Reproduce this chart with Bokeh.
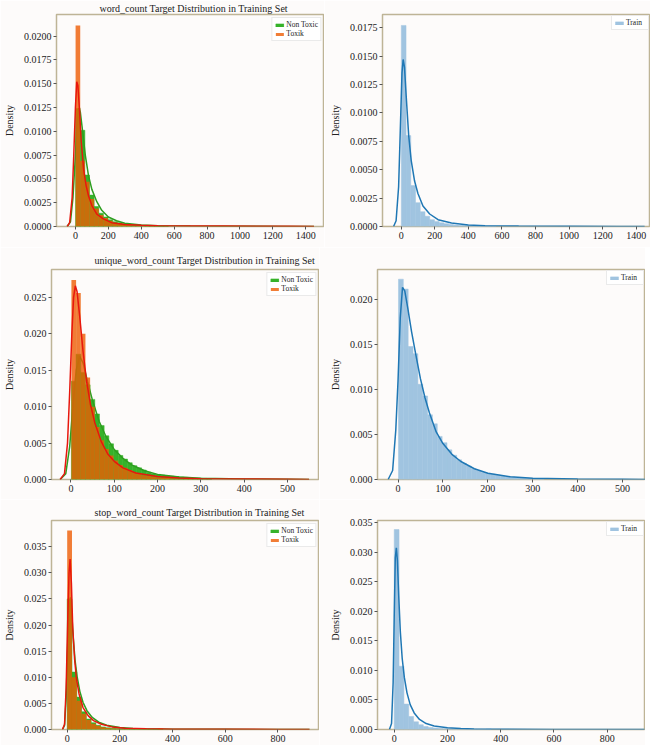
from bokeh.plotting import figure
from bokeh.layouts import column, row
from bokeh.models import (Range1d, FixedTicker, PrintfTickFormatter, Legend,
                          LegendItem, ColumnDataSource)
from bokeh.embed import file_html
from bokeh.resources import INLINE

# ---------------- data ----------------
features = ["word_count", "unique_word_count", "stop_word_count"]
bin_starts = [1, 1, 0]
bin_widths = [28.2, 10.8, 18.2]

# word_count
word_nontoxic = [0.0124, 0.0101, 0.0054, 0.0033, 0.0021, 0.0014, 0.0010, 0.0007, 0.0005, 0.0004,
                 0.0003, 0.00022, 0.00016, 0.00012, 0.0001, 0.00008, 0.00006, 0.00005, 0.00004, 0.00003]
word_toxic = [0.0211, 0.0069, 0.0047, 0.0029, 0.0019, 0.0012, 0.0009, 0.0006, 0.0004, 0.0003,
              0.0002, 0.00015, 0.0001, 0.00008, 0.00006, 0.00005, 0.00004, 0.00003, 0.00003, 0.00002]
word_train = [0.0177, 0.0080, 0.0036, 0.0021, 0.0013, 0.0009, 0.0006, 0.00045, 0.00032, 0.00024,
              0.00017, 0.00013, 0.0001, 0.00008, 0.00006, 0.00005, 0.00004, 0.00003, 0.00003, 0.00002]
word_kde_nontoxic_x = [-50, -30, -15, 0, 10, 20, 30, 45, 60, 80, 100, 130, 160, 200, 250, 300, 400,
                       500, 700, 1000, 1300, 1450]
word_kde_nontoxic_y = [0, 0.0005, 0.0030, 0.0075, 0.0108, 0.0124, 0.0120, 0.0098, 0.0075, 0.0053,
                       0.0039, 0.0026, 0.0017, 0.0010, 0.0006, 0.00035, 0.00015, 0.00008, 0.00004,
                       0.00002, 0.00001, 0]
word_kde_toxic_x = [-50, -35, -20, -10, 0, 8, 15, 25, 35, 50, 65, 80, 100, 130, 170, 220, 300, 400,
                    500, 700, 900, 1100, 1300, 1450]
word_kde_toxic_y = [0, 0.0004, 0.0030, 0.0075, 0.0125, 0.0152, 0.0148, 0.0122, 0.0090, 0.0060,
                    0.0043, 0.0032, 0.0022, 0.0013, 0.0008, 0.0004, 0.0002, 0.00012, 0.00008,
                    0.00005, 0.00004, 0.00003, 0.00003, 0]
word_kde_train_x = [-45, -30, -15, -5, 5, 12, 20, 30, 45, 60, 80, 100, 130, 170, 220, 300, 400, 500,
                    700, 1000, 1300, 1450]
word_kde_train_y = [0, 0.0005, 0.0035, 0.0085, 0.0135, 0.0147, 0.0140, 0.0115, 0.0080, 0.0058,
                    0.0040, 0.0029, 0.0018, 0.0011, 0.0006, 0.0003, 0.00013, 0.00007, 0.00004,
                    0.00002, 0.00001, 0]

# unique_word_count
uniq_nontoxic = [0.0135, 0.0172, 0.0147, 0.0130, 0.0110, 0.0090, 0.0074, 0.0060, 0.0049, 0.0040,
                 0.0033, 0.0028, 0.0023, 0.0019, 0.0016, 0.0013, 0.0010, 0.0008, 0.0007, 0.0006,
                 0.0005, 0.00045, 0.0004, 0.00035, 0.0003, 0.00025, 0.0002, 0.00018, 0.00015, 0.00012]
uniq_toxic = [0.0274, 0.0256, 0.0200, 0.0140, 0.0100, 0.0072, 0.0054, 0.0042, 0.0033, 0.0026,
              0.0020, 0.0016, 0.0013, 0.0010, 0.0008, 0.0006, 0.0005, 0.0004, 0.0003, 0.00025,
              0.0002, 0.00016, 0.00013, 0.0001, 0.00008, 0.00006, 0.00005, 0.00004]
uniq_train = [0.0223, 0.0212, 0.0148, 0.0140, 0.0106, 0.0093, 0.0072, 0.0062, 0.0048, 0.0041,
              0.0033, 0.0027, 0.0022, 0.0018, 0.0015, 0.0012, 0.0010, 0.0008, 0.0007, 0.0006,
              0.0005, 0.0004, 0.0003, 0.00025, 0.0002, 0.00016, 0.00013, 0.0001, 0.00008, 0.00006]
uniq_kde_nontoxic_x = [-25, -12, -3, 5, 12, 20, 28, 38, 50, 65, 80, 100, 120, 140, 170, 200, 250,
                       300, 400, 500, 550]
uniq_kde_nontoxic_y = [0, 0.0008, 0.0045, 0.0105, 0.0150, 0.0169, 0.0160, 0.0135, 0.0108, 0.0080,
                       0.0060, 0.0041, 0.0029, 0.0020, 0.0012, 0.0007, 0.00035, 0.00018, 0.00007,
                       0.00003, 0]
uniq_kde_toxic_x = [-25, -15, -8, -3, 2, 6, 10, 14, 20, 28, 36, 45, 55, 70, 85, 100, 120, 150, 200,
                    250, 300, 400, 500, 550]
uniq_kde_toxic_y = [0, 0.0008, 0.0050, 0.0120, 0.0200, 0.0250, 0.0266, 0.0258, 0.0225, 0.0175,
                    0.0135, 0.0103, 0.0078, 0.0052, 0.0035, 0.0025, 0.0016, 0.0009, 0.0004, 0.0002,
                    0.00012, 0.00006, 0.00003, 0]
uniq_kde_train_x = [-22, -12, -5, 0, 5, 10, 15, 22, 30, 40, 50, 60, 70, 85, 100, 120, 140, 170, 200,
                    250, 300, 400, 500, 560]
uniq_kde_train_y = [0, 0.0010, 0.0055, 0.0110, 0.0180, 0.0214, 0.0210, 0.0190, 0.0165, 0.0138,
                    0.0112, 0.0091, 0.0074, 0.0053, 0.0040, 0.0028, 0.0020, 0.0012, 0.0007, 0.0003,
                    0.00015, 0.00006, 0.00003, 0]

# stop_word_count
stop_nontoxic = [0.0250, 0.0110, 0.0062, 0.0034, 0.0020, 0.0013, 0.0008, 0.0005, 0.00035, 0.00025,
                 0.00018, 0.00013, 0.0001, 0.00008, 0.00006, 0.00005, 0.00004, 0.00003, 0.00003, 0.00002]
stop_toxic = [0.0381, 0.0100, 0.0055, 0.0030, 0.0018, 0.0011, 0.0007, 0.00045, 0.0003, 0.0002,
              0.00015, 0.0001, 0.00008, 0.00006, 0.00005, 0.00004, 0.00003, 0.00003, 0.00002, 0.0002]
stop_train = [0.0338, 0.0107, 0.0043, 0.0022, 0.0013, 0.0008, 0.0005, 0.00035, 0.00025, 0.00018,
              0.00013, 0.0001, 0.00008, 0.00006, 0.00005, 0.00004, 0.00003, 0.00003, 0.00002, 0.0001]
stop_kde_nontoxic_x = [-18, -10, -4, 2, 7, 12, 17, 23, 30, 38, 48, 60, 75, 95, 120, 150, 200, 250,
                       300, 400, 600, 800, 920]
stop_kde_nontoxic_y = [0, 0.0008, 0.0060, 0.0165, 0.0235, 0.0253, 0.0225, 0.0175, 0.0132, 0.0100,
                       0.0073, 0.0052, 0.0036, 0.0023, 0.0014, 0.0008, 0.0004, 0.0002, 0.00012,
                       0.00006, 0.00003, 0.00001, 0]
stop_kde_toxic_x = [-18, -10, -4, 2, 7, 11, 16, 21, 28, 35, 45, 60, 80, 100, 130, 170, 220, 300, 400,
                    600, 800, 920]
stop_kde_toxic_y = [0, 0.0010, 0.0080, 0.0210, 0.0300, 0.0326, 0.0280, 0.0195, 0.0135, 0.0098,
                    0.0068, 0.0042, 0.0026, 0.0017, 0.0010, 0.0005, 0.00025, 0.00012, 0.00006,
                    0.00003, 0.00002, 0]
stop_kde_train_x = [-18, -10, -4, 0, 4, 8, 12, 17, 23, 30, 38, 48, 60, 75, 95, 120, 150, 200, 250,
                    300, 400, 600, 800, 940]
stop_kde_train_y = [0, 0.0010, 0.0080, 0.0190, 0.0290, 0.0307, 0.0285, 0.0225, 0.0165, 0.0120,
                    0.0088, 0.0062, 0.0042, 0.0028, 0.0017, 0.0010, 0.0006, 0.0003, 0.00015,
                    0.0001, 0.00005, 0.00002, 0.00001, 0]

# axis ticks
word_xticks = [0, 200, 400, 600, 800, 1000, 1200, 1400]
uniq_xticks = [0, 100, 200, 300, 400, 500]
stop_xticks = [0, 200, 400, 600, 800]
word_left_yticks = [0, 0.0025, 0.005, 0.0075, 0.01, 0.0125, 0.015, 0.0175, 0.02]
word_right_yticks = [0, 0.0025, 0.005, 0.0075, 0.01, 0.0125, 0.015, 0.0175]
uniq_left_yticks = [0, 0.005, 0.01, 0.015, 0.02, 0.025]
uniq_right_yticks = [0, 0.005, 0.01, 0.015, 0.02]
stop_yticks = [0, 0.005, 0.01, 0.015, 0.02, 0.025, 0.03, 0.035]

# ---------------- styling ----------------
FONT = "Liberation Serif"
BG = "#fdfbfa"
GREEN_FILL = "#36b22a"
GREEN_LINE = "#2e9e20"
TOX_FILL = "#ee5c04"
RED_LINE = "#e8170d"
BLUE = "#1f77b4"
BLUE_BAR = "#a0c4e0"
FRAME_W = 268


def quads(heights, start, width):
    left = [start + i * width for i in range(len(heights))]
    right = [l + width for l in left]
    return ColumnDataSource(dict(left=left, right=right, top=heights,
                                 bottom=[0] * len(heights)))


def make_fig(xr, yr, xticks, yticks, yfmt, frame_h, border_left, border_top, border_bottom,
             title, standoff):
    p = figure(frame_width=FRAME_W, frame_height=frame_h, output_backend="svg",
               toolbar_location=None, x_range=Range1d(*xr), y_range=Range1d(*yr),
               min_border_left=border_left, min_border_right=0,
               min_border_top=border_top, min_border_bottom=border_bottom,
               background_fill_color=BG, border_fill_color=BG)
    if title is not None:
        p.title.text = title
        p.title.align = "left"
        p.title.offset = 43
        p.title.standoff = standoff
        p.title.text_font = FONT
        p.title.text_font_size = "10px"
        p.title.text_font_style = "normal"
        p.title.text_color = "#222222"
    p.xgrid.visible = False
    p.ygrid.visible = False
    p.outline_line_color = "#beb496"
    p.outline_line_width = 1.5
    for ax in (p.xaxis[0], p.yaxis[0]):
        ax.axis_line_color = None
        ax.major_tick_line_color = "#555555"
        ax.major_tick_out = 3
        ax.major_tick_in = 0
        ax.minor_tick_line_color = None
        ax.major_label_text_font = FONT
        ax.major_label_text_font_size = "10px"
        ax.major_label_text_color = "#222222"
        ax.major_label_standoff = 2
    p.xaxis[0].ticker = FixedTicker(ticks=xticks)
    p.yaxis[0].ticker = FixedTicker(ticks=yticks)
    p.yaxis[0].formatter = PrintfTickFormatter(format=yfmt)
    p.yaxis[0].axis_label = "Density"
    p.yaxis[0].axis_label_text_font = FONT
    p.yaxis[0].axis_label_text_font_size = "10px"
    p.yaxis[0].axis_label_text_font_style = "normal"
    p.yaxis[0].axis_label_text_color = "#222222"
    p.yaxis[0].axis_label_standoff = 6
    return p


def style_legend(lg, margin):
    lg.location = "top_right"
    lg.label_text_font = FONT
    lg.label_text_font_size = "7.5px"
    lg.label_text_color = "#222222"
    lg.label_height = 7
    lg.label_standoff = 2
    lg.glyph_width = 10
    lg.glyph_height = 4
    lg.spacing = 0
    lg.padding = 2
    lg.margin = margin
    lg.border_line_color = "#d6d6d6"
    lg.border_line_width = 1
    lg.background_fill_color = "white"
    lg.background_fill_alpha = 0.9


def left_panel(name, nontox, tox, start, width, kx_n, ky_n, kx_t, ky_t,
               xr, yr, xticks, yticks, yfmt, frame_h, btop, bbot, standoff):
    p = make_fig(xr, yr, xticks, yticks, yfmt, frame_h, 49, btop, bbot,
                 name + " Target Distribution in Training Set", standoff)
    r_n = p.quad(left="left", right="right", top="top", bottom="bottom",
                 source=quads(nontox, start, width), fill_color=GREEN_FILL,
                 fill_alpha=1.0, line_color=GREEN_FILL, line_width=0.5)
    p.line(kx_n, ky_n, line_color=GREEN_LINE, line_width=1.5)
    r_t = p.quad(left="left", right="right", top="top", bottom="bottom",
                 source=quads(tox, start, width), fill_color=TOX_FILL,
                 fill_alpha=0.8, line_color=None)
    p.line(kx_t, ky_t, line_color=RED_LINE, line_width=1.5)
    lg = Legend(items=[LegendItem(label="Non Toxic", renderers=[r_n]),
                       LegendItem(label="Toxik", renderers=[r_t])])
    style_legend(lg, 3)
    p.add_layout(lg)
    return p


def right_panel(train, start, width, kx, ky, xr, yr, xticks, yticks, yfmt, frame_h,
                btop, bbot, blank_title, standoff):
    p = make_fig(xr, yr, xticks, yticks, yfmt, frame_h, 58, btop, bbot,
                 " " if blank_title else None, standoff)
    r = p.quad(left="left", right="right", top="top", bottom="bottom",
               source=quads(train, start, width), fill_color=BLUE_BAR,
               fill_alpha=1.0, line_color=BLUE_BAR, line_width=0.5)
    p.line(kx, ky, line_color=BLUE, line_width=1.5)
    lg = Legend(items=[LegendItem(label="Train", renderers=[r])])
    style_legend(lg, 1)
    p.add_layout(lg)
    return p


# row 1
p1 = left_panel(features[0], word_nontoxic, word_toxic, bin_starts[0], bin_widths[0],
                word_kde_nontoxic_x, word_kde_nontoxic_y, word_kde_toxic_x, word_kde_toxic_y,
                (-115, 1514), (0, 0.02226), word_xticks, word_left_yticks, "%.4f",
                212, 0, 21, 1)
p2 = right_panel(word_train, bin_starts[0], bin_widths[0], word_kde_train_x, word_kde_train_y,
                 (-111, 1485), (0, 0.01866), word_xticks, word_right_yticks, "%.4f",
                 212, 0, 21, True, 1)
# row 2
p3 = left_panel(features[1], uniq_nontoxic, uniq_toxic, bin_starts[1], bin_widths[1],
                uniq_kde_nontoxic_x, uniq_kde_nontoxic_y, uniq_kde_toxic_x, uniq_kde_toxic_y,
                (-45, 574), (0, 0.02883), uniq_xticks, uniq_left_yticks, "%.3f",
                210, 22, 20, 8)
p4 = right_panel(uniq_train, bin_starts[1], bin_widths[1], uniq_kde_train_x, uniq_kde_train_y,
                 (-45.7, 551), (0, 0.02338), uniq_xticks, uniq_right_yticks, "%.3f",
                 210, 22, 20, False, 0)
# row 3
p5 = left_panel(features[2], stop_nontoxic, stop_toxic, bin_starts[2], bin_widths[2],
                stop_kde_nontoxic_x, stop_kde_nontoxic_y, stop_kde_toxic_x, stop_kde_toxic_y,
                (-59.6, 958), (0, 0.0400), stop_xticks, stop_yticks, "%.3f",
                209, 21, 16, 6)
p6 = right_panel(stop_train, bin_starts[2], bin_widths[2], stop_kde_train_x, stop_kde_train_y,
                 (-62.8, 944), (0, 0.03533), stop_xticks, stop_yticks, "%.3f",
                 209, 21, 16, False, 0)

layout = column(row(p1, p2), row(p3, p4), row(p5, p6))

open("out.html", "w").write(file_html(layout, INLINE))
